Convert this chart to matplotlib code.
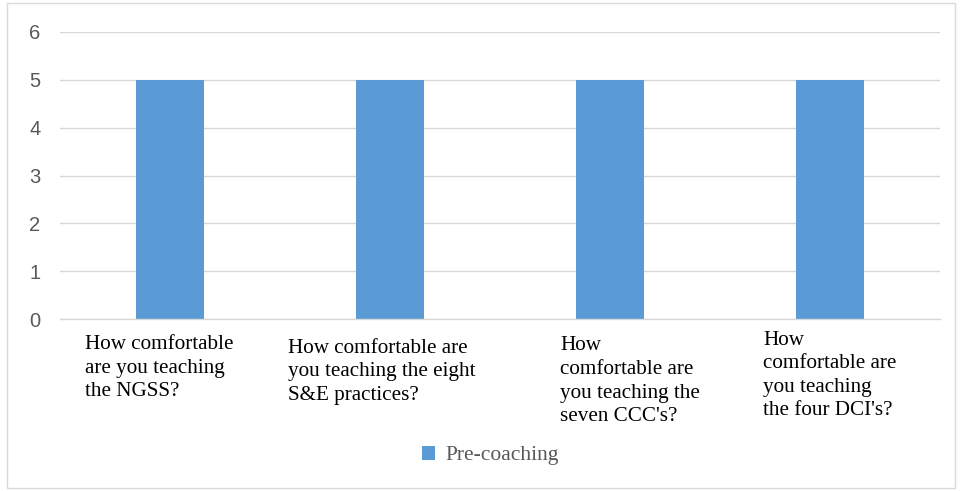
import numpy as np
import matplotlib.pyplot as plt
from matplotlib.patches import Rectangle
from matplotlib.transforms import blended_transform_factory

# %%
labels = ["How comfortable\nare you teaching\nthe NGSS?",
          "How comfortable are\nyou teaching the eight\nS&E practices?",
          "How\ncomfortable are\nyou teaching the\nseven CCC's?",
          "How\ncomfortable are\nyou teaching\nthe four DCI's?"]
pre_coaching = [5, 5, 5, 5]
yticks = [0, 1, 2, 3, 4, 5, 6]

# %%
fig = plt.figure(figsize=(9.6, 4.91), dpi=100)
ax = fig.add_axes([0.0625, 0.350, 0.9167, 0.585])

x = np.arange(len(labels))
bars = ax.bar(x, pre_coaching, width=0.31, color='#5b9bd5', zorder=2, label='Pre-coaching')

ax.set_xlim(-0.5, 3.5)
ax.set_ylim(0, 6)
ax.set_yticks(yticks)
ax.set_yticklabels([str(t) for t in yticks], fontsize=14.5, color='#595959', family='Liberation Sans')
ax.tick_params(axis='y', length=0, pad=14)
ax.set_xticks([])
ax.grid(axis='y', color='#d9d9d9', linewidth=1, zorder=0)
for s in ['top', 'right', 'left']:
    ax.spines[s].set_visible(False)
ax.spines['bottom'].set_color('#d9d9d9')
ax.spines['bottom'].set_linewidth(1)

# category labels, left aligned below the axis
offsets = [-0.386, -0.464, -0.227, -0.305]
tops = [-0.055, -0.068, -0.06, -0.04]
tr = blended_transform_factory(ax.transData, ax.transAxes)
for i, lab in enumerate(labels):
    ax.text(x[i] + offsets[i], tops[i], lab, transform=tr, ha='left', va='top',
            fontsize=15.2, family='Liberation Serif', linespacing=1.33, color='black')

leg = fig.legend(handles=[bars], labels=['Pre-coaching'], loc='center', bbox_to_anchor=(0.511, 0.072),
                 frameon=False, prop={'family': 'Liberation Serif', 'size': 15.5},
                 handlelength=0.6, handleheight=0.6, handletextpad=0.5)
for t in leg.get_texts():
    t.set_color('#595959')

fig.patches.append(Rectangle((0.007, 0.006), 0.988, 0.988, transform=fig.transFigure,
                             fill=False, edgecolor='#d9d9d9', linewidth=1))

plt.savefig('out.png', dpi=100)
